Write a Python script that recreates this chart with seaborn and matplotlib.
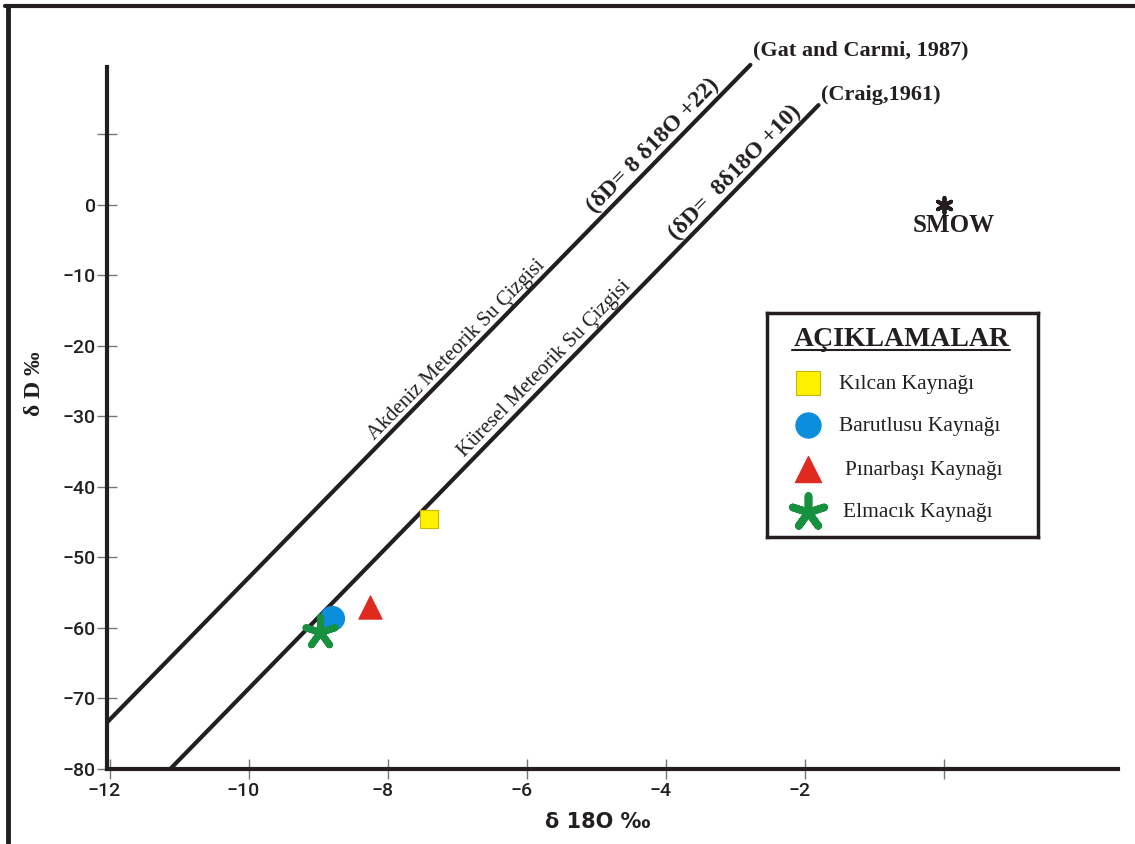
import numpy as np
import matplotlib
matplotlib.use("Agg")
import matplotlib.pyplot as plt
import matplotlib.transforms as mtransforms
from matplotlib.lines import Line2D
import seaborn as sns
import pandas as pd

# --- DATA ---
springs = ["Kılcan Kaynağı", "Barutlusu Kaynağı", "Pınarbaşı Kaynağı", "Elmacık Kaynağı"]
d18o = [-7.41, -8.81, -8.27, -8.98]
dD = [-44.6, -58.6, -57.0, -60.6]

# meteoric water lines, end points as drawn
gat_x = [-12.04, -2.79]
gat_y = [-73.3, 19.8]
craig_x = [-11.14, -1.81]
craig_y = [-80.0, 14.1]

smow_x, smow_y = 0.0, 0.0

x_ticks = [-12, -10, -8, -6, -4, -2, 0]
x_tick_labels = ["−12", "−10", "−8", "−6", "−4", "−2", ""]
y_ticks = [10, 0, -10, -20, -30, -40, -50, -60, -70, -80]
y_tick_labels = ["", "0", "−10", "−20", "−30", "−40", "−50", "−60", "−70", "−80"]

# --- STYLE ---
colors = {"Kılcan Kaynağı": "#fff200", "Barutlusu Kaynağı": "#0b8fdc",
          "Pınarbaşı Kaynağı": "#e02a20", "Elmacık Kaynağı": "#17903f"}
markers = {"Kılcan Kaynağı": "s", "Barutlusu Kaynağı": "o",
           "Pınarbaşı Kaynağı": "^", "Elmacık Kaynağı": (5, 2, 0)}
sizes = {"Kılcan Kaynağı": 170, "Barutlusu Kaynağı": 300,
         "Pınarbaşı Kaynağı": 280, "Elmacık Kaynağı": 480}
INK = "#231f20"
SERIF = ["Liberation Serif", "DejaVu Serif"]
TICKFONT = ["Roboto", "DejaVu Sans"]

sns.set_theme(style="white")
plt.rcParams['font.family'] = ['DejaVu Sans']

fig = plt.figure(figsize=(11.35, 8.44), dpi=100)
ax = fig.add_axes([107 / 1135, 1 - 769 / 844, (1118 - 107) / 1135, (769 - 67) / 844])
ax.set_xlim(-12.05, 2.5)
ax.set_ylim(-80, 19.5)

# lines
df_gat = pd.DataFrame({"x": gat_x, "y": gat_y})
df_craig = pd.DataFrame({"x": craig_x, "y": craig_y})
sns.lineplot(data=df_gat, x="x", y="y", ax=ax, color=INK, lw=3, clip_on=False)
sns.lineplot(data=df_craig, x="x", y="y", ax=ax, color=INK, lw=3, clip_on=False)

# spring points
df_pts = pd.DataFrame({"spring": springs, "d18o": d18o, "dD": dD})
for _, row in df_pts.iterrows():
    name = row["spring"]
    m = markers[name]
    if name == "Elmacık Kaynağı":
        sns.scatterplot(x=[row["d18o"]], y=[row["dD"]], ax=ax, marker=m, s=sizes[name],
                        color=colors[name], edgecolor=colors[name], linewidth=5, zorder=5)
    else:
        ec = "#c9b800" if name == "Kılcan Kaynağı" else colors[name]
        sns.scatterplot(x=[row["d18o"]], y=[row["dD"]], ax=ax, marker=m, s=sizes[name],
                        color=colors[name], edgecolor=ec, linewidth=0.8, zorder=5)

# SMOW
ax.scatter([smow_x], [smow_y], marker=(6, 2, 0), s=120, color=INK, linewidths=2.8, zorder=6, clip_on=False)
ax.text(smow_x + 0.13, smow_y - 2.9, "SMOW", ha="center", va="center", fontsize=18,
        fontweight="bold", family=SERIF, color=INK)

# axes look
for side in ["top", "right"]:
    ax.spines[side].set_visible(False)
for side in ["left", "bottom"]:
    ax.spines[side].set_linewidth(3)
    ax.spines[side].set_color(INK)
ax.set_xticks(x_ticks)
ax.set_xticklabels(x_tick_labels)
ax.set_yticks(y_ticks)
ax.set_yticklabels(y_tick_labels)
ax.tick_params(axis="both", left=True, bottom=True, direction="inout", length=14, width=1,
               color="#777777", labelsize=14, labelcolor=INK)
ax.tick_params(axis="x", pad=2)
ax.tick_params(axis="y", pad=1)
for lab in ax.get_xticklabels() + ax.get_yticklabels():
    lab.set_family(TICKFONT)
    lab.set_fontweight("medium")
shift = mtransforms.ScaledTranslation(-6 / 100, 0, fig.dpi_scale_trans)
for lab in ax.get_xticklabels():
    lab.set_transform(lab.get_transform() + shift)
ax.set_xlabel("")
ax.set_ylabel("")
ax.grid(False)


def place_on_line(lx, ly, x, text, perp_px, **kw):
    p1 = ax.transData.transform((lx[0], ly[0]))
    p2 = ax.transData.transform((lx[1], ly[1]))
    ang = np.degrees(np.arctan2(p2[1] - p1[1], p2[0] - p1[0]))
    y = np.interp(x, lx, ly)
    th = np.radians(ang)
    off = (-np.sin(th) * perp_px * 0.72, np.cos(th) * perp_px * 0.72)
    ax.annotate(text, xy=(x, y), xytext=off, textcoords="offset points", rotation=ang,
                rotation_mode="anchor", ha="center", va="center", color=INK,
                family=SERIF, **kw)


place_on_line(gat_x, gat_y, -6.91, "Akdeniz Meteorik Su Çizgisi", 10, fontsize=15)
place_on_line(craig_x, craig_y, -5.63, "Küresel Meteorik Su Çizgisi", 12, fontsize=15)
place_on_line(gat_x, gat_y, -4.06, "(δD= 8 δ18O +22)", 13, fontsize=17, fontweight="bold")
place_on_line(craig_x, craig_y, -2.88, "(δD=  8δ18O +10)", 13, fontsize=17, fontweight="bold")

ax.text(-2.76, 21.9, "(Gat and Carmi, 1987)", ha="left", va="center", fontsize=16,
        fontweight="bold", family=SERIF, color=INK)
ax.text(-1.78, 15.5, "(Craig,1961)", ha="left", va="center", fontsize=16,
        fontweight="bold", family=SERIF, color=INK)

# axis titles
fig.text(598 / 1135, 1 - 822 / 844, "δ 18O ‰", ha="center", va="center", fontsize=15,
         fontweight="bold", color=INK)
fig.text(35 / 1135, 1 - 384 / 844, "δ D ‰", ha="center", va="center", fontsize=17,
         fontweight="bold", rotation=90, family=SERIF, color=INK)

# legend box
lg = fig.add_axes([767 / 1135, 1 - 537 / 844, (1038 - 767) / 1135, (537 - 313) / 844])
lg.set_xlim(0, 271)
lg.set_ylim(224, 0)
lg.set_xticks([])
lg.set_yticks([])
for sp in lg.spines.values():
    sp.set_linewidth(2.5)
    sp.set_color(INK)
lg.set_facecolor("white")
lg.text(135, 26, "AÇIKLAMALAR", ha="center", va="center", fontsize=20, fontweight="bold",
        family=SERIF, color=INK)
lg.plot([25, 243], [37, 37], color=INK, lw=1.5)
leg_y = [70, 112, 156, 199]
leg_text_x = [72, 72, 78, 76]
leg_sizes = {"Kılcan Kaynağı": 320, "Barutlusu Kaynağı": 330,
             "Pınarbaşı Kaynağı": 360, "Elmacık Kaynağı": 560}
for name, yy, tx in zip(springs, leg_y, leg_text_x):
    if name == "Elmacık Kaynağı":
        lg.scatter([41], [yy], marker=markers[name], s=leg_sizes[name], color=colors[name],
                   linewidths=5.5)
    else:
        ec = "#c9b800" if name == "Kılcan Kaynağı" else colors[name]
        lg.scatter([41], [yy], marker=markers[name], s=leg_sizes[name], color=colors[name],
                   edgecolors=ec, linewidths=0.8)
    lg.text(tx, yy + 1, name, ha="left", va="center", fontsize=15.5, family=SERIF, color=INK)

# outer frame (top and left only)
fig.add_artist(Line2D([5 / 1135, 1], [1 - 6 / 844, 1 - 6 / 844], transform=fig.transFigure,
                      color=INK, lw=3))
fig.add_artist(Line2D([7.5 / 1135, 7.5 / 1135], [0, 1 - 6 / 844], transform=fig.transFigure,
                      color=INK, lw=3.5))

fig.savefig("out.png", dpi=100)
